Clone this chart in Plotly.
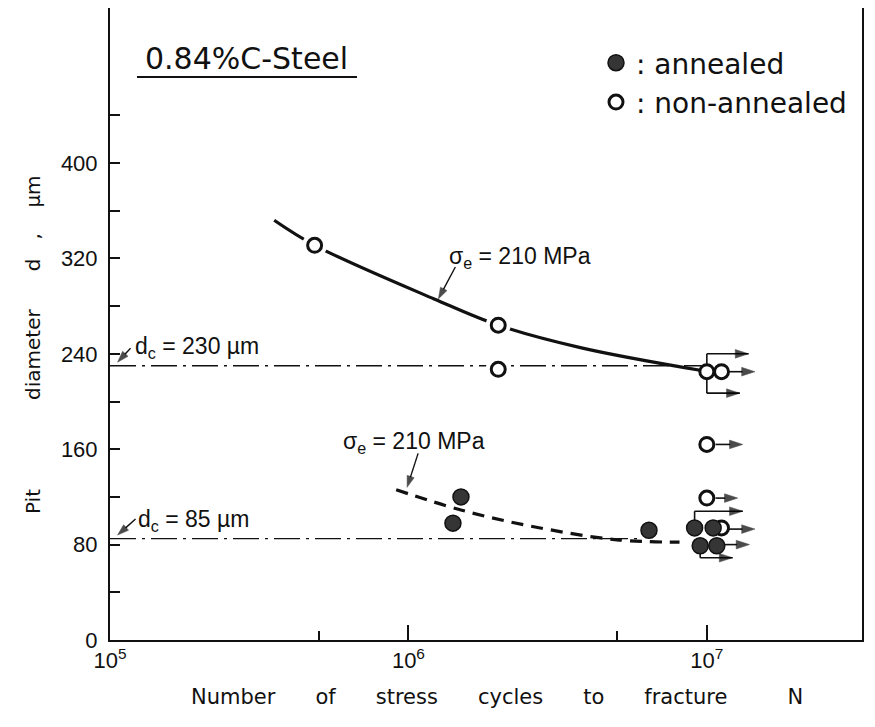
import math
import plotly.graph_objects as go

# ---------------- data ----------------
upper_curve_N = [3.55e5, 4.85e5, 1.22e6, 2.0e6, 3.8e6, 9.6e6]
upper_curve_d = [352, 331, 286, 264, 245, 226]

lower_curve_N = [9.1e5, 1.5e6, 2.63e6, 5.0e6, 8.1e6]
lower_curve_d = [126, 109, 95, 84, 82]

nonannealed_N = [4.85e5, 2.0e6, 2.0e6, 1.12e7, 1.0e7, 1.0e7, 1.0e7, 1.12e7]
nonannealed_d = [331, 264, 227, 225, 225, 164, 119, 94]

annealed_N = [1.41e6, 1.5e6, 6.4e6, 1.05e7, 9.1e6, 1.08e7, 9.5e6]
annealed_d = [98, 120, 92, 94, 94, 79, 79]

# run-out specimens (no fracture): arrow from specimen to the right
runout_from_N = [1.0e7, 1.15e7, 1.0e7, 1.07e7, 1.07e7, 9.1e6, 1.15e7, 1.1e7, 9.5e6]
runout_from_d = [225, 225, 225, 164, 119, 94, 93, 80, 79]
runout_d = [240, 225, 207, 164, 119, 108, 93, 80, 69]
runout_to_N = [1.38e7, 1.45e7, 1.29e7, 1.32e7, 1.27e7, 1.32e7, 1.45e7, 1.39e7, 1.22e7]

dc_values = [230, 85]
dc_labels = ["d<sub>c</sub> = 230 µm", "d<sub>c</sub> = 85 µm"]
dc_N_start = [1e5, 1e5]
dc_N_end = [1.0e7, 6.0e6]

y_major_vals = [0, 80, 160, 240, 320, 400]
y_minor_vals = [40, 120, 200, 280, 360, 440]
x_major_vals = [1e5, 1e6, 1e7]
x_major_text = ["10<sup>5</sup>", "10<sup>6</sup>", "10<sup>7</sup>"]
x_minor_vals = [5e5, 5e6]

# ---------------- styling ----------------
F1 = "Liberation Sans, Arial, sans-serif"
F2 = "DejaVu Sans, Verdana, sans-serif"
BLACK = "#111111"
NB = "\u00a0"
W, H = 867, 719            # page adds an 8 px body margin
ML, MR, MT, MB = 102, 13, 0, 87
PW, PH = W - ML - MR, H - MT - MB
Y_TOP = 530
PX_PER_DECADE = PW / 2.52
PX_PER_UNIT = PH / Y_TOP

fig = go.Figure()

# critical pit-diameter lines (dash-dot)
for v, x0, x1 in zip(dc_values, dc_N_start, dc_N_end):
    fig.add_trace(go.Scatter(x=[x0, x1], y=[v, v], mode="lines",
                             line=dict(color=BLACK, width=1.3, dash="26px,6px,3px,6px"),
                             showlegend=False, hoverinfo="skip"))

# fitted curves
fig.add_trace(go.Scatter(x=upper_curve_N, y=upper_curve_d, mode="lines",
                         line=dict(color=BLACK, width=3.2, shape="spline"),
                         showlegend=False, hoverinfo="skip"))
fig.add_trace(go.Scatter(x=lower_curve_N, y=lower_curve_d, mode="lines",
                         line=dict(color=BLACK, width=3.2, shape="spline", dash="12px,8px"),
                         showlegend=False, hoverinfo="skip"))

# run-out brackets / arrows (arrow head marker at the end of each path)
rx, ry, rs = [], [], []
for a, b, c, e in zip(runout_from_N, runout_from_d, runout_d, runout_to_N):
    rx += [a, a, e, None]
    ry += [b, c, c, None]
    rs += [0, 0, 14, 0]
fig.add_trace(go.Scatter(x=rx, y=ry, mode="lines+markers",
                         line=dict(color=BLACK, width=1.6),
                         marker=dict(symbol="arrow", angleref="previous", size=rs,
                                     color="black", line=dict(width=0.5, color="black")),
                         showlegend=False, hoverinfo="skip"))

# white halo so the curves break around the open circles
fig.add_trace(go.Scatter(x=nonannealed_N[:3], y=nonannealed_d[:3], mode="markers",
                         marker=dict(symbol="circle", size=25, color="white"),
                         showlegend=False, hoverinfo="skip"))

fig.add_trace(go.Scatter(x=nonannealed_N, y=nonannealed_d, mode="markers",
                         name=": non-annealed", legendrank=2,
                         marker=dict(symbol="circle", size=14, color="white",
                                     line=dict(color=BLACK, width=3))))
fig.add_trace(go.Scatter(x=annealed_N, y=annealed_d, mode="markers",
                         name=": annealed", legendrank=1,
                         marker=dict(symbol="circle", size=16, color="#353535",
                                     line=dict(color=BLACK, width=1.5))))


def pointer(tip_N, tip_d, off_x, off_y):
    """thin leader line with arrow head; offsets of the tail in pixels"""
    tail_N = tip_N * 10 ** (off_x / PX_PER_DECADE)
    tail_d = tip_d - off_y / PX_PER_UNIT
    fig.add_trace(go.Scatter(x=[tail_N, tip_N], y=[tail_d, tip_d], mode="lines+markers",
                             line=dict(color=BLACK, width=1.4),
                             marker=dict(symbol="arrow", angleref="previous", size=[0, 12],
                                         color="black", line=dict(width=0.5, color="black")),
                             showlegend=False, hoverinfo="skip"))


def py(page_y):
    return (640 - page_y) / PH


def px(page_x):
    return (page_x - 110) / PW


annotations = []
# title
annotations.append(dict(x=px(246), y=py(59), xref="paper", yref="paper",
                        xanchor="center", yanchor="middle",
                        text="0.84%C-Steel", showarrow=False,
                        font=dict(family=F2, size=30, color=BLACK)))

# sigma_e labels and arrows
annotations.append(dict(x=px(520), y=py(257), xref="paper", yref="paper",
                        xanchor="center", yanchor="middle",
                        text="σ<sub>e</sub> = 210 MPa", showarrow=False,
                        font=dict(family=F1, size=23, color=BLACK)))
pointer(1.26e6, 286, 17, -32)
annotations.append(dict(x=px(414), y=py(442), xref="paper", yref="paper",
                        xanchor="center", yanchor="middle",
                        text="σ<sub>e</sub> = 210 MPa", showarrow=False,
                        font=dict(family=F1, size=23, color=BLACK)))
pointer(9.9e5, 128, 11, -34)

# dc labels and arrows
dc_label_pos = [(133, 347), (136, 520)]
dc_arrow_off = [(13, -14), (18, -16)]
for v, lab, (lx, ly), (ox, oy) in zip(dc_values, dc_labels, dc_label_pos, dc_arrow_off):
    annotations.append(dict(x=px(lx), y=py(ly), xref="paper", yref="paper", text=lab,
                            showarrow=False, xanchor="left", yanchor="middle",
                            font=dict(family=F1, size=23, color=BLACK)))
    pointer(1.06e5, v + 3, ox, oy)

# axis titles
ytitle = ("Pit" + NB * 14 + "diameter" + NB * 6 + "d" + NB * 3 + "," + NB * 4 + "µm")
annotations.append(dict(x=px(33), y=py(345), xref="paper", yref="paper", text=ytitle,
                        xanchor="center", yanchor="middle",
                        textangle=-90, showarrow=False,
                        font=dict(family=F2, size=20, color=BLACK)))
xtitle = ("Number" + NB * 6 + "of" + NB * 6 + "stress" + NB * 6 + "cycles" + NB * 6 +
          "to" + NB * 6 + "fracture" + NB * 9 + "N")
annotations.append(dict(x=px(497), y=py(697), xref="paper", yref="paper", text=xtitle,
                        xanchor="center", yanchor="middle",
                        showarrow=False, font=dict(family=F2, size=21, color=BLACK)))

fig.update_layout(
    width=W, height=H,
    margin=dict(l=ML, r=MR, t=MT, b=MB, autoexpand=False),
    paper_bgcolor="white", plot_bgcolor="white",
    font=dict(family=F1, size=22, color=BLACK),
    annotations=annotations,
    shapes=[dict(type="line", xref="paper", yref="paper", x0=px(137), x1=px(357),
                 y0=py(77), y1=py(77), line=dict(color=BLACK, width=2))],
    legend=dict(x=px(596), y=py(38), xanchor="left", yanchor="top",
                font=dict(family=F2, size=28, color=BLACK),
                bgcolor="rgba(0,0,0,0)", traceorder="normal",
                itemwidth=30, tracegroupgap=0),
    showlegend=True,
)

fig.update_xaxes(type="log", range=[5, 7.52], automargin=False,
                 showline=True, linecolor=BLACK, linewidth=2, mirror=True,
                 showgrid=False, zeroline=False,
                 tickmode="array", tickvals=x_major_vals, ticktext=x_major_text,
                 ticks="inside", ticklen=15, tickwidth=1.5, tickcolor=BLACK,
                 tickfont=dict(family=F1, size=22, color=BLACK),
                 minor=dict(tickmode="array", tickvals=x_minor_vals, ticks="inside",
                            ticklen=9, tickwidth=1.5, tickcolor=BLACK, showgrid=False))
fig.update_yaxes(range=[0, Y_TOP], automargin=False,
                 showline=True, linecolor=BLACK, linewidth=2, mirror=True,
                 showgrid=False, zeroline=False,
                 tickmode="array", tickvals=y_major_vals,
                 ticks="inside", ticklen=10, tickwidth=1.5, tickcolor=BLACK,
                 ticklabelstandoff=6,
                 tickfont=dict(family=F1, size=22, color=BLACK),
                 minor=dict(tickmode="array", tickvals=y_minor_vals, ticks="inside",
                            ticklen=10, tickwidth=1.5, tickcolor=BLACK, showgrid=False))

fig.write_html("out.html")
